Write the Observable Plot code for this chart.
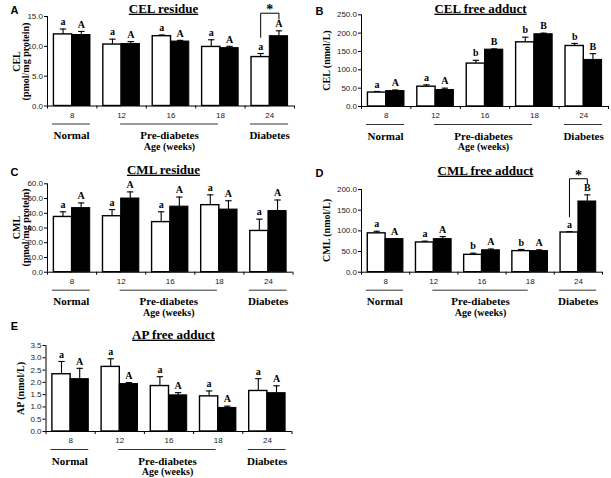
<!DOCTYPE html>
<html>
<head>
<meta charset="utf-8">
<script src="https://cdn.jsdelivr.net/npm/d3@7"></script>
<script src="https://cdn.jsdelivr.net/npm/@observablehq/plot@0.6"></script>
<style>
html,body{margin:0;padding:0;background:#fff;}
#fig{position:relative;width:611px;height:478px;overflow:hidden;background:#fff;}
#fig svg{position:absolute;overflow:visible;}
</style>
</head>
<body>
<div id="fig"></div>
<script>
// ---------------- data ----------------
const ages = ["8", "12", "16", "18", "24"];
const groupNames = ["Normal", "Pre-diabetes", "Diabetes"];
const xAxisTitle = "Age (weeks)";

// A — CEL residue
const celResTitle = "CEL residue";
const celResYLabel = "CEL\n(pmol/mg protein)";
const celResTicks = [0, 5, 10, 15];
const celResWhite = [12.0, 10.3, 11.7, 9.9, 8.2];
const celResWhiteErr = [0.9, 0.9, 0.2, 1.2, 0.6];
const celResBlack = [11.9, 10.4, 10.8, 9.7, 11.7];
const celResBlackErr = [0.6, 0.4, 0.2, 0.3, 0.9];
const celResWhiteLetters = ["a", "a", "a", "a", "a"];
const celResBlackLetters = ["A", "A", "A", "A", "A"];
const celResSigAges = ["24"];
const celResSigTops = [15.55];

// B — CEL free adduct
const celFreeTitle = "CEL free adduct";
const celFreeYLabel = "CEL (nmol/L)";
const celFreeTicks = [0, 50, 100, 150, 200, 250];
const celFreeWhite = [38, 54, 117, 175, 165];
const celFreeWhiteErr = [3, 5, 9, 14, 7];
const celFreeBlack = [42, 45, 155, 197, 127];
const celFreeBlackErr = [3, 5, 2, 3, 17];
const celFreeWhiteLetters = ["a", "a", "b", "b", "b"];
const celFreeBlackLetters = ["A", "A", "B", "B", "B"];
const celFreeSigAges = [];
const celFreeSigTops = [];

// C — CML residue
const cmlResTitle = "CML residue";
const cmlResYLabel = "CML\n(pmol/mg protein)";
const cmlResTicks = [0, 10, 20, 30, 40, 50, 60];
const cmlResWhite = [37.5, 38, 34, 45.5, 28];
const cmlResWhiteErr = [3.5, 4.5, 7, 7, 8];
const cmlResBlack = [43.5, 50, 44.5, 42.5, 41.5];
const cmlResBlackErr = [3.5, 4.5, 6.5, 6, 7.5];
const cmlResWhiteLetters = ["a", "a", "a", "a", "a"];
const cmlResBlackLetters = ["A", "A", "A", "A", "A"];
const cmlResSigAges = [];
const cmlResSigTops = [];

// D — CML free adduct
const cmlFreeTitle = "CML free adduct";
const cmlFreeYLabel = "CML (nmol/L)";
const cmlFreeTicks = [0, 50, 100, 150, 200];
const cmlFreeWhite = [94, 72, 42, 51, 96];
const cmlFreeWhiteErr = [5, 3, 4, 4, 2];
const cmlFreeBlack = [80, 80, 53, 51, 171];
const cmlFreeBlackErr = [1, 6, 3, 3, 16];
const cmlFreeWhiteLetters = ["a", "a", "b", "b", "a"];
const cmlFreeBlackLetters = ["A", "A", "A", "A", "B"];
const cmlFreeSigAges = ["24"];
const cmlFreeSigTops = [226];

// E — AP free adduct
const apFreeTitle = "AP free adduct";
const apFreeYLabel = "AP (nmol/L)";
const apFreeTicks = [0, 0.5, 1, 1.5, 2, 2.5, 3, 3.5];
const apFreeWhite = [2.33, 2.63, 1.85, 1.43, 1.65];
const apFreeWhiteErr = [0.52, 0.33, 0.38, 0.22, 0.5];
const apFreeBlack = [2.13, 1.93, 1.47, 0.96, 1.56];
const apFreeBlackErr = [0.44, 0.06, 0.11, 0.07, 0.3];
const apFreeWhiteLetters = ["a", "a", "a", "a", "a"];
const apFreeBlackLetters = ["A", "A", "A", "A", "A"];
const apFreeSigAges = [];
const apFreeSigTops = [];

// ---------------- layout / style ----------------
const SERIF = "'Liberation Serif','Times New Roman',serif";
const SANS = "'Liberation Sans',Arial,sans-serif";
const BW = 0.37;     // width of one bar, in category units
const CAP = 0.065;   // half-width of error caps
const groupSpans = [[-0.40, 0.37], [0.98, 2.96], [3.61, 4.38]];

const panels = [
  {letter: "A", title: celResTitle, ylabel: celResYLabel, ticks: celResTicks,
   white: celResWhite, whiteErr: celResWhiteErr, black: celResBlack, blackErr: celResBlackErr,
   wl: celResWhiteLetters, bl: celResBlackLetters, sigAges: celResSigAges, sigTops: celResSigTops,
   box: [0, 0, 300, 150], fx: [47, 294], fy: [16, 105.5], tpos: [163, 8], lpos: [14, 10], ypos: [21, 61]},
  {letter: "B", title: celFreeTitle, ylabel: celFreeYLabel, ticks: celFreeTicks,
   white: celFreeWhite, whiteErr: celFreeWhiteErr, black: celFreeBlack, blackErr: celFreeBlackErr,
   wl: celFreeWhiteLetters, bl: celFreeBlackLetters, sigAges: celFreeSigAges, sigTops: celFreeSigTops,
   box: [305, 0, 306, 150], fx: [361, 608], fy: [14.3, 106], tpos: [480, 8], lpos: [319, 11], ypos: [326, 60]},
  {letter: "C", title: cmlResTitle, ylabel: cmlResYLabel, ticks: cmlResTicks,
   white: cmlResWhite, whiteErr: cmlResWhiteErr, black: cmlResBlack, blackErr: cmlResBlackErr,
   wl: cmlResWhiteLetters, bl: cmlResBlackLetters, sigAges: cmlResSigAges, sigTops: cmlResSigTops,
   box: [0, 150, 300, 165], fx: [47, 292.5], fy: [183.3, 271.7], tpos: [163, 169], lpos: [14, 172], ypos: [21, 227]},
  {letter: "D", title: cmlFreeTitle, ylabel: cmlFreeYLabel, ticks: cmlFreeTicks,
   white: cmlFreeWhite, whiteErr: cmlFreeWhiteErr, black: cmlFreeBlack, blackErr: cmlFreeBlackErr,
   wl: cmlFreeWhiteLetters, bl: cmlFreeBlackLetters, sigAges: cmlFreeSigAges, sigTops: cmlFreeSigTops,
   box: [305, 150, 306, 165], fx: [361, 602], fy: [189, 271.7], tpos: [485, 170], lpos: [319, 173], ypos: [326, 230]},
  {letter: "E", title: apFreeTitle, ylabel: apFreeYLabel, ticks: apFreeTicks,
   white: apFreeWhite, whiteErr: apFreeWhiteErr, black: apFreeBlack, blackErr: apFreeBlackErr,
   wl: apFreeWhiteLetters, bl: apFreeBlackLetters, sigAges: apFreeSigAges, sigTops: apFreeSigTops,
   box: [0, 315, 300, 163], fx: [45.5, 291.5], fy: [345, 431], tpos: [173, 334], lpos: [14, 326], ypos: [20, 388]}
];

const fig = document.getElementById("fig");

function drawPanel(p) {
  const [L, T, W, H] = p.box;
  const [fx0, fx1] = p.fx;
  const [fy0, fy1] = p.fy;
  const n = ages.length;
  const ymax = p.ticks[p.ticks.length - 1];
  const at = (px, py) => ({frameAnchor: "top-left", dx: px - fx0, dy: py - fy0, textAnchor: "middle"});

  const rows = ages.map((age, i) => ({
    i, age,
    w: p.white[i], we: p.whiteErr[i], b: p.black[i], be: p.blackErr[i],
    wl: p.wl[i], bl: p.bl[i]
  }));
  const bounds = d3.range(n + 1).map(k => k - 0.5);
  const groups = groupNames.map((g, k) => ({g, a: groupSpans[k][0], b: groupSpans[k][1]}));
  const sig = p.sigAges.map((age, k) => {
    const r = rows[ages.indexOf(age)];
    return {i: r.i, top: p.sigTops[k], lo: r.w + r.we + 0.18 * ymax, ro: r.b + r.be + 0.13 * ymax};
  });
  const bracket = sig.flatMap(s => [
    {s: s.i, x: s.i - BW / 2, y: s.lo},
    {s: s.i, x: s.i - BW / 2, y: s.top},
    {s: s.i, x: s.i + BW / 2, y: s.top},
    {s: s.i, x: s.i + BW / 2, y: s.ro}
  ]);
  const wc = d => d.i - BW / 2;
  const bc = d => d.i + BW / 2;
  const letterStyle = {fontFamily: SERIF, fontWeight: "bold", fontSize: 10, lineAnchor: "middle", dy: -7, fill: "#000"};

  const svg = Plot.plot({
    width: W, height: H,
    marginLeft: fx0 - L, marginRight: L + W - fx1,
    marginTop: fy0 - T, marginBottom: T + H - fy1,
    x: {type: "linear", domain: [-0.5, n - 0.5]},
    y: {type: "linear", domain: [0, ymax]},
    style: {fontFamily: SANS, fontSize: "8px", color: "#222", background: "transparent", overflow: "visible"},
    marks: [
      // bars
      Plot.rect(rows, {x1: d => d.i - BW, x2: d => d.i, y1: 0, y2: "w", fill: "white", stroke: "black", strokeWidth: 1.4}),
      Plot.rect(rows, {x1: d => d.i, x2: d => d.i + BW, y1: 0, y2: "b", fill: "black", stroke: "black", strokeWidth: 1}),
      // error bars
      Plot.ruleX(rows, {x: wc, y1: "w", y2: d => d.w + d.we, stroke: "black", strokeWidth: 1.1}),
      Plot.link(rows, {x1: d => wc(d) - CAP, x2: d => wc(d) + CAP, y1: d => d.w + d.we, y2: d => d.w + d.we, stroke: "black", strokeWidth: 1.1}),
      Plot.ruleX(rows, {x: bc, y1: "b", y2: d => d.b + d.be, stroke: "black", strokeWidth: 1.1}),
      Plot.link(rows, {x1: d => bc(d) - CAP, x2: d => bc(d) + CAP, y1: d => d.b + d.be, y2: d => d.b + d.be, stroke: "black", strokeWidth: 1.1}),
      // letters
      Plot.text(rows, {x: wc, y: d => d.w + d.we, text: "wl", ...letterStyle}),
      Plot.text(rows, {x: bc, y: d => d.b + d.be, text: "bl", ...letterStyle}),
      // significance brackets
      Plot.line(bracket, {x: "x", y: "y", z: "s", stroke: "black", strokeWidth: 1}),
      Plot.text(sig, {x: "i", y: "top", text: () => "*", lineAnchor: "bottom", dy: 1, fontFamily: SERIF, fontWeight: "bold", fontSize: 14, fill: "#000"}),
      // axes
      Plot.ruleY([0], {x1: -0.5, x2: n - 0.5, stroke: "black", strokeWidth: 1}),
      Plot.ruleX([-0.5], {y1: 0, y2: ymax, stroke: "black", strokeWidth: 1}),
      Plot.axisY({ticks: p.ticks, tickSize: 3, tickPadding: 1.5, tickFormat: d3.format(".1f"), label: null, fontSize: 8, stroke: "black"}),
      Plot.axisX({ticks: bounds, tickSize: 3, tickFormat: () => "", label: null, stroke: "black"}),
      Plot.text(rows, {x: "i", frameAnchor: "bottom", dy: 9, text: "age", lineAnchor: "middle", fontFamily: SANS, fontSize: 8}),
      // group annotations
      Plot.ruleY(groups, {y: () => 0, x1: "a", x2: "b", dy: 18, stroke: "#333", strokeWidth: 1}),
      Plot.text(groups, {x: d => (d.a + d.b) / 2, frameAnchor: "bottom", dy: 29.5, text: "g", lineAnchor: "middle", fontFamily: SERIF, fontWeight: "bold", fontSize: 11, fill: "#000"}),
      Plot.text([xAxisTitle], {x: () => (groupSpans[1][0] + groupSpans[1][1]) / 2, frameAnchor: "bottom", dy: 40.5, text: d => d, lineAnchor: "middle", fontFamily: SERIF, fontWeight: "bold", fontSize: 10, fill: "#000"}),
      // titles and labels
      Plot.text([p.title], {...at(p.tpos[0], p.tpos[1]), text: d => d, lineAnchor: "middle", fontFamily: SERIF, fontWeight: "bold", fontSize: 13, fill: "#000"}),
      Plot.text([p.letter], {...at(p.lpos[0], p.lpos[1]), text: d => d, lineAnchor: "middle", fontFamily: SANS, fontWeight: "bold", fontSize: 11, fill: "#000"}),
      Plot.text([p.ylabel], {...at(p.ypos[0], p.ypos[1]), text: d => d, rotate: -90, lineAnchor: "middle", lineHeight: 0.95, fontFamily: SERIF, fontWeight: "bold", fontSize: 10, fill: "#000"})
    ]
  });
  svg.style.left = L + "px";
  svg.style.top = T + "px";
  d3.select(svg).selectAll("text")
    .filter(function () { return this.textContent === p.title; })
    .attr("text-decoration", "underline");
  fig.appendChild(svg);
}

panels.forEach(drawPanel);
</script>
</body>
</html>
